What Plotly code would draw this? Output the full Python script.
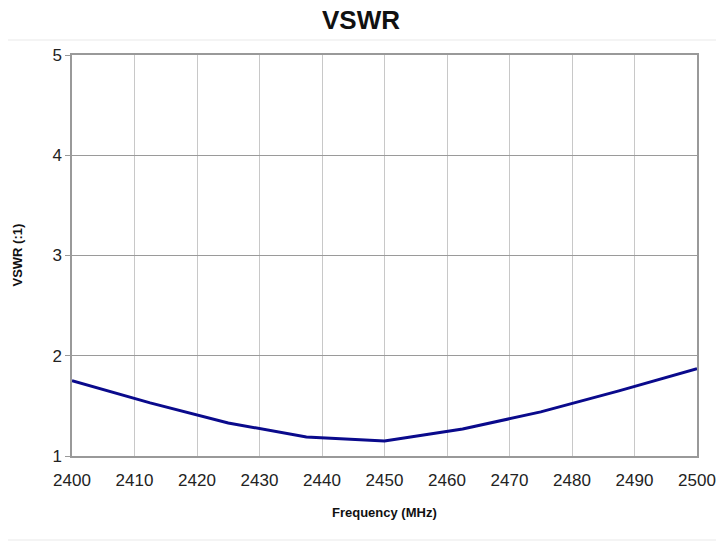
import plotly.graph_objects as go

freq_mhz = [2400, 2412.5, 2425, 2437.5, 2450, 2462.5, 2475, 2487.5, 2500]
vswr = [1.75, 1.53, 1.33, 1.19, 1.15, 1.27, 1.44, 1.65, 1.87]

x_ticks = [2400, 2410, 2420, 2430, 2440, 2450, 2460, 2470, 2480, 2490, 2500]
y_ticks = [1, 2, 3, 4, 5]

FONT = "Liberation Sans, Arial, sans-serif"
L, R, T, B = 72, 25, 55, 90
W, H = 722, 546
PW, PH = W - L - R, H - T - B

fig = go.Figure(go.Scatter(
    x=freq_mhz, y=vswr, mode="lines",
    line=dict(color="#0a0a8c", width=3),
    showlegend=False, hoverinfo="x+y",
))

fig.update_layout(
    width=W, height=H,
    margin=dict(l=L, r=R, t=T, b=B, autoexpand=False),
    paper_bgcolor="white", plot_bgcolor="white",
    font=dict(family=FONT, color="#222"),
    title=dict(text="<b>VSWR</b>", x=0.5, xanchor="center", y=0.963,
               yanchor="middle", font=dict(size=26, color="#111")),
)
fig.update_xaxes(
    range=[2400, 2500], tickvals=x_ticks, automargin=False,
    showgrid=True, gridcolor="#c8c8c8", gridwidth=1,
    showline=True, linecolor="#999", linewidth=1.5, mirror=True,
    tickfont=dict(size=17, color="#222"), ticks="", ticklabelstandoff=8,
    zeroline=False,
)
fig.update_yaxes(
    range=[1, 5], tickvals=y_ticks, automargin=False,
    showgrid=True, gridcolor="#9a9a9a", gridwidth=1,
    showline=True, linecolor="#999", linewidth=1.5, mirror=True,
    ticks="outside", ticklen=5, tickcolor="#999",
    tickfont=dict(size=17, color="#222"),
    zeroline=False,
)

# axis titles placed as annotations
fig.add_annotation(text="<b>Frequency (MHz)</b>", xref="paper", yref="paper",
                   x=0.5, y=(T + PH - 512) / PH, showarrow=False,
                   xanchor="center", yanchor="middle",
                   font=dict(size=13, color="#111"))
fig.add_annotation(text="<b>VSWR (:1)</b>", xref="paper", yref="paper",
                   x=(17 - L) / PW, y=0.5, showarrow=False, textangle=-90,
                   xanchor="center", yanchor="middle",
                   font=dict(size=13, color="#111"))

# faint separator lines above and below the chart area
for y_px in (40, 540):
    fig.add_shape(type="line", xref="paper", yref="paper",
                  x0=(8 - L) / PW, x1=(716 - L) / PW,
                  y0=(T + PH - y_px) / PH, y1=(T + PH - y_px) / PH,
                  line=dict(color="#f0f0f0", width=1.5))

# drop the default page margin so the figure sits at the window's corner
page_css = "document.body.style.margin='0';document.body.style.overflow='hidden';"
fig.write_html("out.html", post_script=page_css,
               config={"displayModeBar": False})
